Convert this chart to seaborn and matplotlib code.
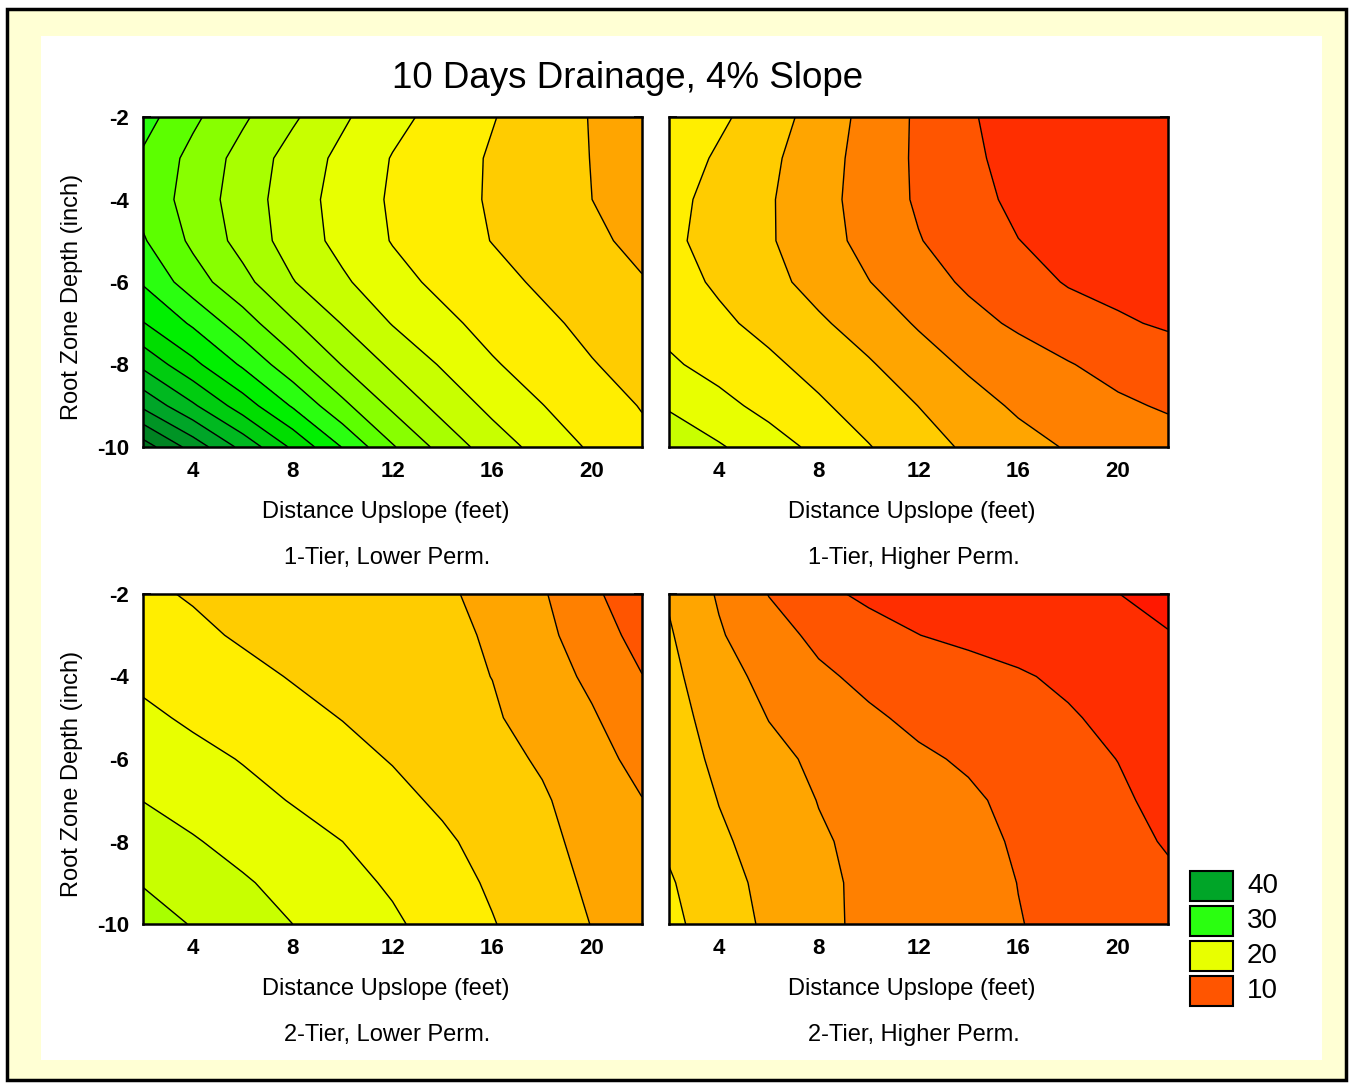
# %%
import numpy as np
import matplotlib.pyplot as plt
import seaborn as sns
from matplotlib import font_manager
from matplotlib.patches import Rectangle

sns.set_style('white')
plt.rcParams['font.family'] = ['Liberation Sans', 'DejaVu Sans']
plt.rcParams['text.color'] = 'black'
plt.rcParams['xtick.color'] = 'black'
plt.rcParams['ytick.color'] = 'black'
plt.rcParams['axes.unicode_minus'] = False

# grid: distance upslope (feet) x root zone depth (inch)
distance = [2, 4, 6, 8, 10, 12, 14, 16, 18, 20, 22]
depth = [-2, -3, -4, -5, -6, -7, -8, -9, -10]

# drainage values, one row per depth
tier1_lower = [
    [29.8, 27.4, 25.3, 23.3, 21.3, 19.6, 18.3, 17.1, 16.0, 14.9, 13.9],
    [28.7, 26.4, 24.3, 22.2, 20.5, 18.9, 17.9, 16.8, 15.9, 14.95, 14.0],
    [28.3, 26.2, 24.0, 22.0, 20.2, 18.75, 17.75, 16.8, 15.9, 15.0, 14.1],
    [29.2, 26.6, 24.3, 22.1, 20.4, 18.9, 17.9, 16.95, 16.1, 15.3, 14.6],
    [30.8, 27.9, 25.6, 23.1, 21.3, 19.7, 18.5, 17.6, 16.7, 16.0, 15.1],
    [33.1, 30.7, 27.9, 25.25, 22.9, 20.9, 19.5, 18.3, 17.4, 16.5, 15.7],
    [36.5, 33.5, 30.7, 27.7, 24.9, 22.6, 20.8, 19.2, 18.1, 17.1, 16.3],
    [40.6, 37.3, 34.0, 30.8, 27.5, 24.6, 22.3, 20.5, 19.05, 17.9, 16.9],
    [46.0, 42.2, 38.4, 34.65, 30.9, 27.2, 24.3, 22.0, 20.3, 18.7, 17.5],
]
tier1_higher = [
    [18.6, 17.4, 15.9, 14.2, 12.35, 10.7, 9.1, 8.6, 8.2, 7.8, 7.4],
    [18.2, 16.7, 15.4, 13.9, 12.2, 10.7, 9.2, 8.65, 8.25, 7.9, 7.5],
    [17.6, 16.35, 15.2, 13.7, 12.2, 10.75, 9.45, 8.7, 8.35, 8.0, 7.6],
    [17.4, 16.3, 15.2, 13.8, 12.4, 11.1, 10.0, 9.02, 8.6, 8.25, 7.9],
    [17.8, 16.7, 15.6, 14.3, 13.05, 11.8, 10.7, 9.8, 8.85, 8.55, 8.3],
    [18.4, 17.4, 16.4, 15.3, 14.1, 12.8, 11.6, 10.7, 9.95, 9.2, 8.8],
    [19.3, 18.3, 17.4, 16.3, 15.2, 13.9, 12.7, 11.9, 11.1, 10.4, 9.8],
    [20.8, 19.6, 18.4, 17.3, 16.1, 14.98, 13.8, 12.7, 12.0, 11.3, 10.8],
    [22.3, 21.2, 19.9, 18.5, 17.1, 15.8, 14.7, 13.7, 12.85, 12.3, 11.8],
]
tier2_lower = [
    [17.3, 16.85, 16.54, 16.2, 15.85, 15.55, 15.25, 14.55, 13.2, 11.4, 9.6],
    [18.0, 17.35, 16.8, 16.4, 16.05, 15.75, 15.45, 14.8, 13.5, 12.0, 10.3],
    [18.6, 18.0, 17.45, 16.9, 16.4, 15.95, 15.45, 14.98, 13.9, 12.6, 11.05],
    [19.4, 18.7, 18.1, 17.5, 16.95, 16.35, 15.8, 15.2, 14.3, 13.2, 11.7],
    [20.2, 19.55, 18.9, 18.2, 17.55, 16.9, 16.2, 15.55, 14.8, 13.7, 12.4],
    [20.97, 20.3, 19.6, 18.9, 18.2, 17.5, 16.7, 15.95, 15.2, 14.15, 13.05],
    [21.9, 21.15, 20.4, 19.7, 19.0, 18.1, 17.3, 16.35, 15.4, 14.5, 13.5],
    [22.9, 22.05, 21.2, 20.4, 19.6, 18.75, 17.75, 16.75, 15.7, 14.7, 13.8],
    [23.8, 22.9, 22.0, 21.0, 20.15, 19.3, 18.2, 17.1, 16.0, 14.95, 14.1],
]
tier2_higher = [
    [14.8, 12.8, 10.95, 9.5, 8.6, 8.35, 8.05, 7.75, 7.4, 7.02, 6.4],
    [15.2, 13.2, 11.7, 10.6, 9.8, 9.02, 8.6, 8.25, 7.9, 7.5, 7.1],
    [15.5, 13.8, 12.4, 11.3, 10.6, 10.15, 9.7, 9.2, 8.65, 8.1, 7.5],
    [15.7, 14.3, 12.95, 12.1, 11.25, 10.65, 10.15, 9.65, 9.2, 8.5, 7.8],
    [16.0, 14.6, 13.5, 12.65, 12.0, 11.25, 10.8, 10.2, 9.6, 8.97, 8.1],
    [16.4, 14.95, 13.9, 12.95, 12.4, 11.8, 11.25, 10.6, 9.95, 9.3, 8.45],
    [16.7, 15.3, 14.25, 13.2, 12.55, 12.0, 11.4, 10.85, 10.2, 9.55, 8.85],
    [17.2, 15.7, 14.5, 13.4, 12.6, 12.1, 11.55, 10.98, 10.4, 9.9, 9.3],
    [17.5, 16.0, 14.65, 13.55, 12.5, 12.1, 11.6, 11.05, 10.65, 10.3, 9.9],
]

panel_titles = ['1-Tier, Lower Perm.', '1-Tier, Higher Perm.',
                '2-Tier, Lower Perm.', '2-Tier, Higher Perm.']
x_ticks = [4, 8, 12, 16, 20]
y_ticks = [-2, -4, -6, -8, -10]
legend_values = [40, 30, 20, 10]

# contour levels every 2 units, bands centred on even values 6..46
levels = np.arange(5, 49, 2)
band_colors = ['#FF1800', '#FF2E00', '#FF5500', '#FF8000', '#FFA500', '#FFCC00',
               '#FFEE00', '#E8FF00', '#C8FF00', '#A8FF00', '#88FF00', '#5CFF00',
               '#2AFF10', '#00F000', '#00DD00', '#00CC10', '#00B820', '#00A528',
               '#009425', '#008322', '#00721E']
centre_color = dict(zip(range(6, 48, 2), band_colors))

# narrow bold tick labels if the narrow face is installed
installed = {f.name for f in font_manager.fontManager.ttflist}
if 'Liberation Sans Narrow' in installed:
    tick_font, tick_size = 'Liberation Sans Narrow', 18
else:
    tick_font, tick_size = 'Liberation Sans', 16

W, H = 1351, 1084
fig = plt.figure(figsize=(W / 100, H / 100), dpi=100)


def fx(px):
    return px / W


def fy(py):
    return 1 - py / H


# framed pale yellow background with white plotting area
fig.patches.append(Rectangle((fx(7), fy(1080)), fx(1346) - fx(7), (1080 - 9) / H,
                             transform=fig.transFigure, facecolor='#FFFFD4',
                             edgecolor='black', linewidth=2.5, zorder=-20))
fig.patches.append(Rectangle((fx(41), fy(1060)), fx(1322) - fx(41), (1060 - 36) / H,
                             transform=fig.transFigure, facecolor='white',
                             edgecolor='none', zorder=-10))

boxes = [(143, 117), (669, 117), (143, 594), (669, 594)]
panels = [tier1_lower, tier1_higher, tier2_lower, tier2_higher]
aw, ah = 499, 330

for i, (z, (left, top), name) in enumerate(zip(panels, boxes, panel_titles)):
    ax = fig.add_axes([fx(left), fy(top + ah), aw / W, ah / H])
    ax.contourf(distance, depth, np.array(z), levels=levels, colors=band_colors)
    ax.contour(distance, depth, np.array(z), levels=levels, colors='black',
               linewidths=1.0)
    ax.set_xlim(2, 22)
    ax.set_ylim(-10, -2)
    ax.set_xticks(x_ticks)
    ax.set_yticks(y_ticks)
    ax.tick_params(direction='in', length=6, width=1.2, top=True, right=True,
                   left=True, bottom=True, labelsize=tick_size, pad=10,
                   labelleft=(i % 2 == 0))
    for lbl in ax.get_xticklabels() + ax.get_yticklabels():
        lbl.set_fontfamily(tick_font)
        lbl.set_fontweight('bold')
    for sp in ax.spines.values():
        sp.set_linewidth(1.8)
        sp.set_color('black')

    cx = left + aw / 2
    fig.text(fx(cx - 7), fy(top + ah + 65), 'Distance Upslope (feet)',
             ha='center', va='center', fontsize=17)
    fig.text(fx(cx - 5), fy(top + ah + 111), name,
             ha='center', va='center', fontsize=17)
    if i % 2 == 0:
        fig.text(fx(72), fy(top + ah / 2 + 15), 'Root Zone Depth (inch)',
                 ha='center', va='center', rotation=90, fontsize=17)

fig.text(fx(628), fy(79), '10 Days Drainage, 4% Slope', ha='center',
         va='center', fontsize=26.5)

# level legend
for k, val in enumerate(legend_values):
    top = 871 + 35 * k
    fig.patches.append(Rectangle((fx(1190), fy(top + 30)), 43 / W, 30 / H,
                                 transform=fig.transFigure,
                                 facecolor=centre_color[val],
                                 edgecolor='black', linewidth=1.5))
    fig.text(fx(1247), fy(top + 15), str(val), ha='left', va='center',
             fontsize=20)

plt.savefig('out.png', dpi=100, facecolor='white')
